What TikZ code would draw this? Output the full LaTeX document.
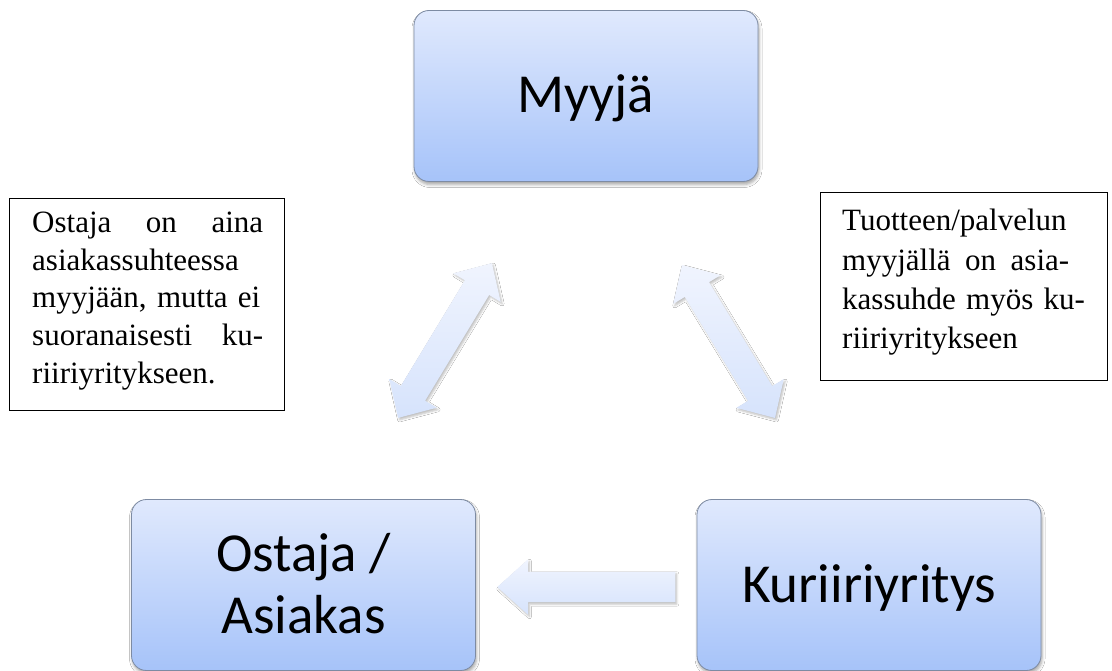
\documentclass[tikz,border=0pt]{standalone}
\usepackage{fontspec}
\setmainfont{Liberation Serif}
\newfontfamily\boxfont{Carlito}
\usetikzlibrary{shapes.arrows,shadows.blur}
\definecolor{boxtop}{HTML}{E0E9FD}
\definecolor{boxbot}{HTML}{A6C3F9}
\definecolor{boxline}{HTML}{7D8BA3}
\definecolor{arrtop}{HTML}{F0F4FE}
\definecolor{arrbot}{HTML}{D6E3FC}
\newcommand{\jline}[1]{\leavevmode\hbox to \hsize{#1}}
\begin{document}
\begin{tikzpicture}[x=1pt,y=1pt,
  entity/.style={rounded corners=15pt, draw=boxline, line width=0.8pt,
    top color=boxtop, bottom color=boxbot, inner sep=0pt,
    minimum width=344pt, minimum height=171pt,
    font=\boxfont\fontsize{55}{62}\selectfont,
    blur shadow={shadow xshift=1pt, shadow yshift=-3pt, shadow opacity=35, shadow blur radius=3pt}},
  note/.style={draw=black, line width=0.9pt, fill=white, inner sep=0pt},
  notetext/.style={inner sep=0pt, align=left, anchor=north west},
  darrow/.style={double arrow, double arrow head extend=13.5pt, double arrow tip angle=88,
    inner xsep=0pt, inner ysep=14pt, top color=arrtop, bottom color=arrbot, draw=none,
    blur shadow={shadow xshift=1.5pt, shadow yshift=-2pt, shadow opacity=25, shadow blur radius=2pt}},
  sarrow/.style={single arrow, single arrow head extend=12.5pt, single arrow tip angle=84,
    shape border rotate=180,
    inner xsep=0pt, inner ysep=15pt, top color=arrtop, bottom color=arrbot, draw=none,
    blur shadow={shadow xshift=1.5pt, shadow yshift=-2pt, shadow opacity=25, shadow blur radius=2pt}}
]
\useasboundingbox[fill=white] (0,0) rectangle (1112,-671);

% main boxes
\node[entity, text height=33pt, text depth=0pt] (myyja) at (586,-96) {Myyjä};
\node[entity, text height=0pt, text depth=28pt] (ostaja) at (303.5,-585)
  {\smash{\begin{tabular}[t]{@{}c@{}}Ostaja /\\Asiakas\end{tabular}}};
\node[entity, text height=34pt, text depth=0pt] (kuriiri) at (869,-585) {Kuriiriyritys};

% arrows
\node[darrow, minimum height=181pt, rotate=58.8] (a1) at (445,-340.5) {};
\node[darrow, minimum height=179pt, rotate=-58.7] (a2) at (728.5,-341.5) {};
\node[sarrow, minimum height=178pt, anchor=tip] (a3) at (497,-587) {};

% notes
\node[note, minimum width=275pt, minimum height=212pt] (leftnote) at (146.5,-304) {};
\node[notetext, text width=231pt, font=\fontsize{31}{37.8}\selectfont] (lefttext) at (32,-211.5)
  {\jline{Ostaja \hfil on \hfil aina}\\
   asiakassuhteessa\\
   \jline{myyjään, mutta ei}\\
   \jline{suoranaisesti \hfil ku-}\\
   riiriyritykseen.};
\node[note, minimum width=287pt, minimum height=188pt] (rightnote) at (963.5,-286) {};
\node[notetext, text width=227pt, font=\fontsize{31}{39.3}\selectfont] (righttext) at (842,-209)
  {Tuotteen/palvelun\\
   \jline{myyjällä \hfil on \hfil asia-}\\
   \jline{kassuhde myös ku-}\\
   riiriyritykseen};
\end{tikzpicture}
\end{document}
